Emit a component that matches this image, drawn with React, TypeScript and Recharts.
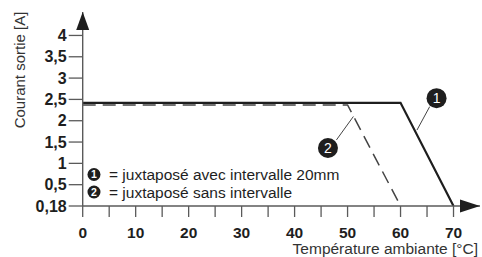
import { LineChart, Line, XAxis, YAxis, ReferenceDot, ReferenceLine } from "recharts";

// Courbe 1 : juxtaposé avec intervalle 20mm
const temps20mm = [0, 60, 70];
const current20mm = [2.42, 2.42, 0.18];

// Courbe 2 : juxtaposé sans intervalle
const tempsNoGap = [0, 50, 60];
const currentNoGap = [2.37, 2.37, 0.18];

const xTicks = [0, 5, 10, 15, 20, 25, 30, 35, 40, 45, 50, 55, 60, 65, 70];
const xTickLabels = ["0", "", "10", "", "20", "", "30", "", "40", "", "50", "", "60", "", "70"];
const yTickValues = [0.18, 0.5, 1, 1.5, 2, 2.5, 3, 3.5, 4];
const yTickLabels = ["0,18", "0,5", "1", "1,5", "2", "2,5", "3", "3,5", "4"];

const legendItems = ["= juxtaposé avec intervalle 20mm", "= juxtaposé sans intervalle"];

// the axis starts at 0,18 with the same spacing as the other ticks
const toAxis = (v: number) => (v < 0.5 ? ((v - 0.18) / 0.32) * 0.5 : v);

const series20mm = temps20mm.map((t, i) => ({ t, a: toAxis(current20mm[i]) }));
const seriesNoGap = tempsNoGap.map((t, i) => ({ t, a: toAxis(currentNoGap[i]) }));
const yTicks = yTickValues.map(toAxis);

const INK = "#1e1e1e";
const AXIS = "#5a5a5a";

function Badge({ cx, cy, r, n, size, weight }: any) {
    return (
        <g>
            <circle cx={cx} cy={cy} r={r} fill={INK} />
            <text x={cx} y={cy + size * 0.36} textAnchor="middle" fill="#fff" fontSize={size} fontWeight={weight}>
                {n}
            </text>
        </g>
    );
}

function LegendRow(props: any) {
    const { cx, cy, n, text } = props;
    return (
        <g>
            <Badge cx={cx} cy={cy} r={6.5} n={n} size={10.5} weight={700} />
            <text x={cx + 15} y={cy + 5.5} fill={INK} fontSize={15.5}>
                {text}
            </text>
        </g>
    );
}

function Arrow({ cx, cy, dir }: any) {
    const pts =
        dir === "right"
            ? `${cx},${cy} ${cx - 20},${cy - 6.5} ${cx - 20},${cy + 6.5}`
            : `${cx},${cy} ${cx - 6.5},${cy + 18} ${cx + 6.5},${cy + 18}`;
    return <polygon points={pts} fill={INK} />;
}

export default function App() {
    return (
        <div style={{ position: "fixed", left: 0, top: 0, width: 482, height: 257, background: "#fff", fontFamily: "'Liberation Sans', Arial, sans-serif" }}>
            <LineChart width={482} height={257} margin={{ top: 12, right: 2, bottom: 21, left: 0 }}>
                <XAxis
                    type="number"
                    dataKey="t"
                    domain={[0, 75]}
                    ticks={xTicks}
                    interval={0}
                    tickFormatter={(v: number) => xTickLabels[xTicks.indexOf(v)] ?? ""}
                    tickSize={11}
                    tickMargin={9.5}
                    height={30}
                    allowDataOverflow
                    axisLine={{ stroke: AXIS, strokeWidth: 1.4 }}
                    tickLine={{ stroke: AXIS, strokeWidth: 1.3 }}
                    tick={{ fill: INK, fontSize: 15.5, fontWeight: 700 }}
                    label={{
                        content: ({ viewBox }: any) => (
                            <text x={viewBox.x + viewBox.width - 2} y={viewBox.y + 48} textAnchor="end" fill="#333" fontSize={15.5}>
                                Température ambiante [°C]
                            </text>
                        ),
                    }}
                />
                <YAxis
                    type="number"
                    dataKey="a"
                    domain={[0, 4.55]}
                    ticks={yTicks}
                    interval={0}
                    tickFormatter={(v: number) => yTickLabels[yTicks.indexOf(v)] ?? ""}
                    width={82.7}
                    tickSize={14}
                    tickMargin={2}
                    allowDataOverflow
                    axisLine={{ stroke: AXIS, strokeWidth: 1.4 }}
                    tickLine={{ stroke: AXIS, strokeWidth: 1.3 }}
                    tick={{ fill: INK, fontSize: 16, fontWeight: 700 }}
                    label={{
                        content: () => (
                            <text x={24.5} y={70} transform="rotate(-90 24.5 70)" textAnchor="middle" fill="#333" fontSize={15}>
                                Courant sortie [A]
                            </text>
                        ),
                    }}
                />
                <Line data={seriesNoGap} dataKey="a" stroke="#444" strokeWidth={1.5} strokeDasharray="13 7" dot={false} isAnimationActive={false} />
                <Line data={series20mm} dataKey="a" stroke={INK} strokeWidth={2.2} dot={false} isAnimationActive={false} />

                <ReferenceLine segment={[{ x: 65.5, y: 2.33 }, { x: 63.1, y: 1.78 }]} stroke="#444" strokeWidth={1} />
                <ReferenceLine segment={[{ x: 47.9, y: 1.55 }, { x: 51.1, y: 2.1 }]} stroke="#444" strokeWidth={1} />
                <ReferenceDot x={66.8} y={2.53} r={10} shape={(p: any) => <Badge cx={p.cx} cy={p.cy} r={10} n="1" size={14} weight={400} />} />
                <ReferenceDot x={46.3} y={1.36} r={10} shape={(p: any) => <Badge cx={p.cx} cy={p.cy} r={10} n="2" size={14} weight={400} />} />

                <ReferenceDot x={2.13} y={0.739} r={6} shape={(p: any) => <LegendRow cx={p.cx} cy={p.cy} n="1" text={legendItems[0]} />} />
                <ReferenceDot x={2.13} y={0.328} r={6} shape={(p: any) => <LegendRow cx={p.cx} cy={p.cy} n="2" text={legendItems[1]} />} />

                <ReferenceDot x={75} y={0} r={1} ifOverflow="visible" shape={(p: any) => <Arrow cx={p.cx} cy={p.cy} dir="right" />} />
                <ReferenceDot x={0} y={4.55} r={1} ifOverflow="visible" shape={(p: any) => <Arrow cx={p.cx} cy={p.cy} dir="up" />} />
            </LineChart>
        </div>
    );
}
